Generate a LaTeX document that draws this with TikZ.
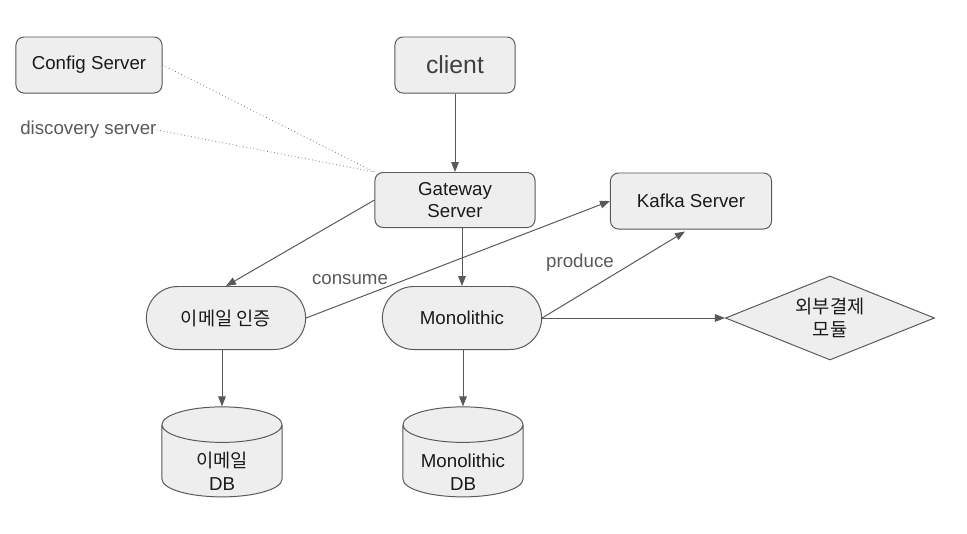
\documentclass[tikz,border=0pt]{standalone}
\usepackage{fontspec}
\setmainfont{Liberation Sans}
\newfontfamily\kor{Noto Sans CJK KR}
\usetikzlibrary{shapes.geometric,shapes.misc,arrows.meta,calc}

\definecolor{linec}{HTML}{595959}
\definecolor{boxfill}{HTML}{EEEEEE}
\definecolor{txt}{HTML}{1A1A1A}
\definecolor{lbl}{HTML}{595959}

% db label: fixed-size box, text set a bit below the node centre
\newcommand\dblabel[1]{\makebox[2.4cm]{\raisebox{-0.46cm}[0pt][0pt]{\begin{tabular}{@{}c@{}}#1\end{tabular}}}}

\tikzset{
  box/.style={draw=linec, fill=boxfill, line width=0.7pt, rounded corners=0.2cm,
    minimum height=1.4cm, inner sep=2pt, align=center, text=txt, font=\fontsize{13.3}{16}\selectfont},
  svc/.style={draw=linec, fill=boxfill, line width=0.7pt, rounded rectangle,
    minimum width=4.12cm, minimum height=1.575cm, inner sep=2pt, align=center, text=txt,
    font=\fontsize{13.3}{16}\selectfont},
  dbase/.style={draw=linec, fill=boxfill, line width=0.7pt, cylinder, shape border rotate=90,
    aspect=0.37, minimum width=3cm, minimum height=2.25cm, inner sep=0pt,
    text=txt, font=\fontsize{13.3}{16}\selectfont},
  choice/.style={draw=linec, fill=boxfill, line width=0.7pt, diamond, aspect=2.5,
    minimum width=5.225cm, minimum height=2.1cm, inner sep=0pt, align=center, text=txt,
    font=\fontsize{13.3}{16}\selectfont},
  lab/.style={text=lbl, font=\fontsize{13.3}{16}\selectfont, inner sep=0pt},
  arr/.style={draw=linec, line width=0.7pt, -{Triangle[length=2.5mm,width=1.9mm]}},
  dots/.style={draw=linec, line width=0.5pt, dotted}
}

\begin{document}
\begin{tikzpicture}[x=0.025cm, y=-0.025cm]
  \useasboundingbox[fill=white] (0,0) rectangle (967,533);

  % top row
  \node[box, minimum width=3.65cm] (config) at (89,65) {Config Server};
  \node[box, minimum width=3cm, text=black!75, font=\fontsize{17.6}{20}\selectfont] (client) at (455,65) {client};
  \node[lab, anchor=west] (disc) at (20,130) {discovery server};

  % middle
  \node[box, minimum width=4cm, minimum height=1.375cm] (gw) at (455,200) {Gateway\\Server};
  \node[box, minimum width=4.025cm] (kafka) at (691,201) {Kafka Server};

  \node[svc] (email) at (226,318) {\kor 이메일 인증};
  \node[svc] (mono) at (462,318) {Monolithic};
  \node[choice] (pay) at (830,318) {\kor 외부결제\\\kor 모듈};

  % databases
  \node[dbase] (emaildb) at (222,461) {\dblabel{{\kor 이메일}\\DB}};
  \node[dbase] (monodb) at (463,461) {\dblabel{Monolithic\\DB}};

  % connectors
  \draw[dots] (config.east) -- (gw.north west);
  \draw[dots] (disc.east) -- (gw.north west);

  \draw[arr] (client) -- (gw);
  \draw[arr] (gw.west) -- (email.north);
  \draw[arr] (gw.south -| mono.north) -- (mono.north);
  \draw[arr] (email.east) -- (kafka.west);
  \draw[arr] (mono.east) -- ($(kafka.south)+(-6,2)$);
  \draw[arr] (mono.east) -- (pay.west);
  \draw[arr] (email.south -| emaildb.north) -- (emaildb.north);
  \draw[arr] (mono.south -| monodb.north) -- (monodb.north);

  \node[lab] (consume) at (350,280) {consume};
  \node[lab] (produce) at (580,263) {produce};
\end{tikzpicture}
\end{document}
